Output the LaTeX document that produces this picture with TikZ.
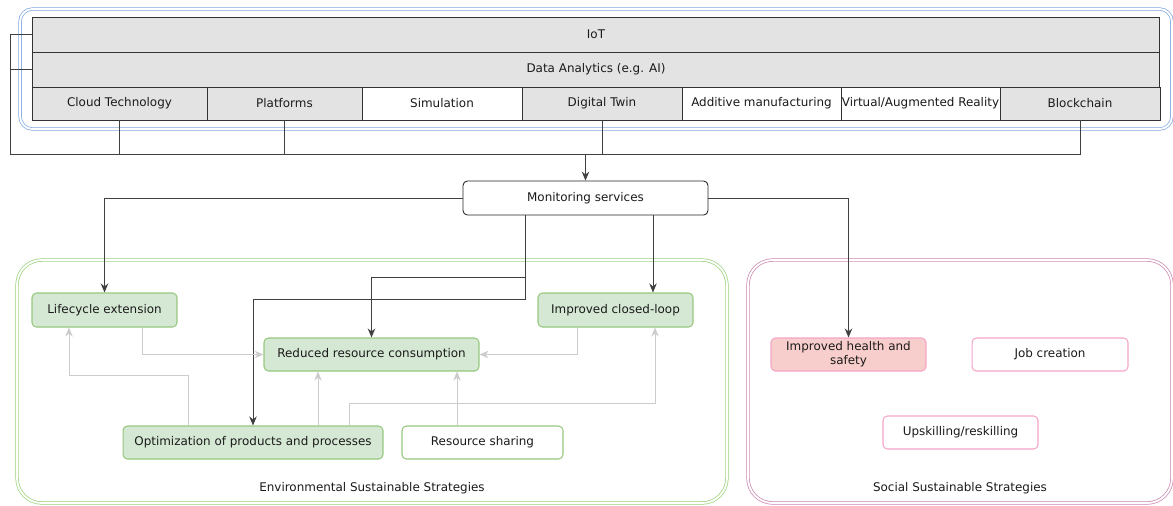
\documentclass[tikz,border=0pt]{standalone}
\usepackage{fontspec}
\setmainfont{DejaVu Sans}
\usetikzlibrary{arrows.meta,positioning}

\definecolor{cellgray}{HTML}{E3E3E3}
\definecolor{framebl}{HTML}{7EA6E0}
\definecolor{framegr}{HTML}{97D077}
\definecolor{framepk}{HTML}{C985B0}
\definecolor{boxgr}{HTML}{D5E8D4}
\definecolor{linegr}{HTML}{96C77E}
\definecolor{boxpk}{HTML}{F8CECC}
\definecolor{linepk}{HTML}{F3A5C8}
\definecolor{txt}{HTML}{1A1A1A}

\begin{document}
\begin{tikzpicture}[x=0.02cm, y=-0.02cm,
    every node/.style={font=\fontsize{6.8}{8}\selectfont, text=txt},
    cell/.style={rectangle, draw=black!80, fill=cellgray, inner sep=0pt, line width=0.5pt},
    wcell/.style={cell, fill=white},
    mon/.style={rectangle, rounded corners=2.5pt, draw=black!85, fill=white, line width=0.5pt, inner sep=0pt},
    gbox/.style={rectangle, rounded corners=2.5pt, draw=linegr, fill=boxgr, line width=0.6pt, inner sep=0pt},
    wgbox/.style={gbox, fill=white},
    pbox/.style={rectangle, rounded corners=2.5pt, draw=linepk, fill=boxpk, line width=0.6pt, inner sep=0pt, align=center},
    wpbox/.style={pbox, fill=white},
    fr/.style={rectangle, double=white, double distance=1.1pt, line width=0.4pt, inner sep=0pt},
    ln/.style={draw=black!75, line width=0.5pt},
    arr/.style={ln, -{Stealth[length=1.8mm, width=1.5mm]}},
    garr/.style={draw=black!20, line width=0.5pt, -{Stealth[length=1.8mm, width=1.5mm]}},
  ]
  \useasboundingbox (0,0) rectangle (1173,505);

  \node[fr, draw=framebl, rounded corners=7pt, minimum width=23.04cm, minimum height=2.4cm] (tech) at (596,69) {};
  \node[fr, draw=framegr, rounded corners=14pt, minimum width=14.2cm, minimum height=4.86cm] (env) at (372,381.5) {};
  \node[fr, draw=framepk, rounded corners=14pt, minimum width=8.48cm, minimum height=4.86cm] (soc) at (960,381.5) {};

  \node[cell, minimum width=22.56cm, minimum height=0.7cm] (iot) at (596,34.5) {IoT};
  \node[cell, minimum width=22.56cm, minimum height=0.7cm] (data) at (596,69.5) {Data Analytics (e.g. AI)};
  \node[cell, minimum width=3.5cm, minimum height=0.66cm] (cloud) at (119.5,103.5) {Cloud Technology};
  \node[cell, minimum width=3.1cm, minimum height=0.66cm] (platf) at (284.5,103.5) {Platforms};
  \node[wcell, minimum width=3.2cm, minimum height=0.66cm] (sim) at (442,103.5) {Simulation};
  \node[cell, minimum width=3.2cm, minimum height=0.66cm] (twin) at (602,103.5) {Digital Twin};
  \node[wcell, minimum width=3.18cm, minimum height=0.66cm] (addm) at (761.5,103.5) {Additive manufacturing};
  \node[wcell, minimum width=3.18cm, minimum height=0.66cm] (vrar) at (920.5,103.5) {Virtual/Augmented Reality};
  \node[cell, minimum width=3.2cm, minimum height=0.66cm] (chain) at (1080,103.5) {Blockchain};

  \node[mon, minimum width=4.9cm, minimum height=0.68cm] (moni) at (585.5,198) {Monitoring services};

  \node[gbox, minimum width=2.9cm, minimum height=0.68cm] (life) at (104.5,310) {Lifecycle extension};
  \node[gbox, minimum width=3.1cm, minimum height=0.68cm] (loop) at (615.5,310) {Improved closed-loop};
  \node[gbox, minimum width=4.3cm, minimum height=0.66cm] (red) at (371.5,354.5) {Reduced resource consumption};
  \node[gbox, minimum width=5.2cm, minimum height=0.66cm] (opt) at (253,442.5) {Optimization of products and processes};
  \node[wgbox, minimum width=3.22cm, minimum height=0.66cm] (share) at (482.5,442.5) {Resource sharing};
  \node at (372,488) {Environmental Sustainable Strategies};

  \node[pbox, minimum width=3.1cm, minimum height=0.66cm] (health) at (848.5,354.5) {Improved health and\\safety};
  \node[wpbox, minimum width=3.12cm, minimum height=0.66cm] (job) at (1050,354.5) {Job creation};
  \node[wpbox, minimum width=3.1cm, minimum height=0.66cm] (skill) at (960.5,432.5) {Upskilling/reskilling};
  \node at (960,488) {Social Sustainable Strategies};

  \coordinate (bus) at (10,154);
  \draw[ln] (iot.west) -| (bus) -| (chain.south);
  \draw[ln] (data.west) -- (data.west -| bus);
  \draw[ln] (cloud.south) -- (cloud.south |- bus);
  \draw[ln] (platf.south) -- (platf.south |- bus);
  \draw[ln] (twin.south) -- (twin.south |- bus);
  \draw[arr] (moni.north |- bus) -- (moni.north);

  \coordinate (ms) at ([xshift=-1.21cm]moni.south);
  \draw[arr] (moni.west) -| (life.north);
  \draw[arr] (moni.east) -| (health.north);
  \draw[arr] ([xshift=1.35cm]moni.south) -- ([xshift=1.35cm]moni.south |- loop.north);
  \draw[arr] (ms) -- (ms |- 0,299) -| (opt.north);
  \draw[arr] (ms) -- (ms |- 0,277) -| (red.north);

  \draw[garr] ([xshift=0.75cm]life.south) |- (red.west);
  \draw[garr] ([xshift=-0.77cm]loop.south) |- (red.east);
  \draw[garr] ([xshift=-1.3cm]opt.north) -- ++(0,-50) -| ([xshift=-0.71cm]life.south);
  \draw[garr] ([xshift=1.3cm]opt.north) -- ([xshift=1.3cm]opt.north |- red.south);
  \draw[garr] ([xshift=1.92cm]opt.north) -- ++(0,-22) -| ([xshift=0.79cm]loop.south);
  \draw[garr] ([xshift=-0.51cm]share.north) -- ([xshift=-0.51cm]share.north |- red.south);
\end{tikzpicture}
\end{document}
